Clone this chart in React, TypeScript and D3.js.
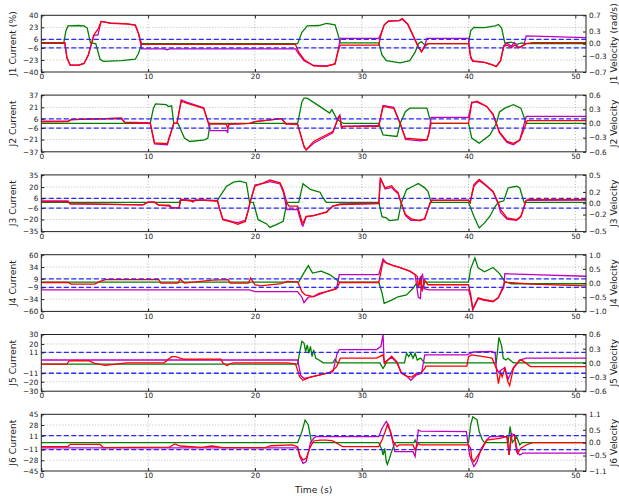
import React, { useEffect, useRef } from 'react';
import * as d3 from 'd3';

type Pt = [number, number];

// time axis
const timeTicks = [0, 10, 20, 30, 40, 50];
const timeMax = 51;

// joint labels / ticks
const joints = ['J1', 'J2', 'J3', 'J4', 'J5', 'J6'];
const currentTicks = [
  [40, 23, 6, -6, -23, -40],
  [37, 21, 6, -6, -21, -37],
  [35, 20, 6, -6, -20, -35],
  [60, 34, 9, -9, -34, -60],
  [30, 20, 11, -11, -20, -30],
  [45, 28, 11, -11, -28, -45],
];
const velocityTicks = [
  [0.7, 0.3, 0.0, -0.3, -0.7],
  [0.6, 0.3, 0.0, -0.3, -0.6],
  [0.5, 0.2, 0.0, -0.2, -0.5],
  [1.0, 0.5, 0.0, -0.5, -1.0],
  [0.6, 0.3, 0.0, -0.3, -0.6],
  [1.1, 0.5, 0.0, -0.5, -1.1],
];
const currentLimits = [6, 6, 6, 9, 11, 11];

// green: current (%), left axis
const j1Current: Pt[] = [[0,0.4],[2.1,0.4],[2.3,18],[2.5,25],[3.5,25.6],[4.0,25],[4.3,22],[4.6,1],[5.1,0],[5.5,-22],[5.8,-25],[7.5,-24],[8.8,-22],[9.1,-14],[9.4,0],[24.0,0],[24.4,16],[24.9,25],[26.0,25.6],[26.7,28.5],[27.5,26.5],[27.8,12],[28.0,1],[31.6,1],[31.9,-16],[32.3,-24],[33.6,-27],[34.5,-24],[35.0,-12],[35.3,0],[35.6,3],[35.9,-2],[36.2,0],[40.0,0],[40.2,18],[40.5,23],[41.5,22.5],[42.5,25],[42.8,27],[43.1,22],[43.4,1],[44.0,2],[44.5,-1],[45.0,1],[45.3,0],[51,0]];
const j2Current: Pt[] = [[0,0],[10.2,0],[10.5,20],[10.7,25.5],[11.7,24.5],[11.9,22],[12.2,23],[12.4,0],[12.8,0],[13.4,-19],[13.9,-23.5],[15.3,-21.5],[15.6,-19],[15.8,0],[24.0,0],[24.4,28],[24.6,33],[24.9,33],[26.1,22],[27.0,13.5],[27.2,18],[27.7,5],[28.3,0],[31.6,0],[32.0,-15],[33.3,-17],[33.6,0],[34.1,15.7],[34.5,20],[36.1,20],[36.5,0],[40.0,0],[40.3,-19],[41.0,-25.7],[42.0,-15],[42.6,0],[42.9,15],[43.4,20],[44.2,24.5],[44.9,20],[45.4,0],[51,0]];
const j3Current: Pt[] = [[0,1.2],[12.9,1.2],[13.0,3.5],[16.5,3.5],[16.8,10],[17.35,21],[18.0,26],[18.6,27.3],[19.2,25],[19.5,1.2],[19.85,1.2],[20.3,-20.3],[21.1,-25.5],[21.4,-29.8],[22.0,-26.4],[22.65,-22.2],[23.0,1.2],[24.1,1.2],[24.5,24.3],[24.8,21],[25.2,17],[25.8,14.8],[26.1,13.6],[26.3,8.6],[26.6,2.5],[26.7,1.2],[31.6,1.2],[31.9,-16.5],[32.3,-18],[32.6,-21.4],[33.4,-20.2],[33.7,0],[34.2,16.9],[34.8,21],[35.3,24.3],[35.9,19],[36.2,14.8],[36.5,1.2],[40.0,1.2],[40.5,-16],[41.0,-30.5],[41.5,-24.3],[42.0,-16],[42.5,-3.7],[42.8,1.2],[43.3,3],[43.7,18.9],[44.5,21],[44.8,18.9],[45.2,1.2],[51,1.2]];
const j4Current: Pt[] = [[0,2],[24.1,2],[24.6,22],[25.0,37],[25.4,21],[26.2,25],[27.0,18],[27.65,7],[27.9,2],[31.6,2],[31.9,-21],[32.1,-43],[32.8,-36],[33.4,-29],[34.2,-25],[34.8,-11],[35.1,-1],[35.3,-7],[35.5,4],[35.7,-12],[35.9,2],[40.0,2],[40.2,30],[40.6,53],[40.9,32],[41.5,24],[42.3,33],[42.9,20],[43.4,3],[44.0,-1.5],[51,-1.5]];
const j5Current: Pt[] = [[0,-1.3],[24.0,-1.3],[24.2,12],[24.4,22.8],[24.6,21],[24.75,12],[24.9,19],[25.05,10],[25.2,17.4],[25.35,6.6],[25.5,13.8],[25.7,4.8],[26.0,3],[26.4,0],[27.3,0],[27.5,4],[27.7,0],[31.7,0],[32.0,-6],[32.3,0],[34.0,0],[34.2,10.2],[34.4,6.6],[34.6,10.2],[34.8,4.8],[35.0,10.2],[35.2,3],[35.5,5],[35.9,0],[42.6,0],[42.85,27],[43.1,18],[43.25,4.8],[43.5,3],[43.7,4.8],[44.0,2],[44.2,0],[51,0]];
const j6Current: Pt[] = [[0,0],[24.0,0],[24.4,17.5],[24.7,36],[25.0,28],[25.3,0],[31.6,0],[31.9,-12],[32.0,-19.6],[32.15,-9],[32.3,-30],[32.4,-34.4],[32.6,-25],[32.8,-14.3],[33.1,0],[34.9,0],[35.0,4.2],[35.1,0],[40.0,0],[40.2,28],[40.4,41],[40.8,36],[41.0,17.5],[41.3,4.2],[41.5,0],[43.7,0],[43.9,25.4],[44.1,0],[44.5,9.5],[44.8,-3.7],[45.0,0],[51,0]];

// magenta: commanded velocity, right axis
const j1VelCmd: Pt[] = [[0,0.025],[2.2,0.025],[2.4,-0.35],[2.7,-0.53],[3.5,-0.53],[4.0,-0.49],[4.4,-0.28],[4.7,0.0],[4.9,0.21],[5.3,0.21],[5.6,0.55],[6.5,0.51],[8.0,0.49],[8.8,0.46],[9.1,0.25],[9.4,-0.13],[11.5,-0.13],[11.8,-0.15],[12.0,-0.13],[23.8,-0.13],[24.1,-0.25],[24.6,-0.42],[25.5,-0.54],[26.7,-0.55],[27.5,-0.5],[27.8,-0.15],[28.0,0.13],[31.6,0.13],[31.8,0.25],[32.1,0.46],[32.5,0.55],[33.5,0.57],[33.8,0.6],[34.3,0.48],[34.8,0.2],[35.3,-0.09],[35.6,-0.2],[35.9,-0.05],[36.1,0.13],[40.0,0.13],[40.2,-0.35],[40.4,-0.44],[41.5,-0.46],[42.3,-0.53],[42.6,-0.56],[43.0,-0.42],[43.3,-0.05],[43.6,0.02],[44.0,-0.07],[44.3,0.03],[44.7,-0.1],[45.2,-0.03],[45.4,0.19],[51,0.15]];
const j2VelCmd: Pt[] = [[0,0.05],[2.5,0.05],[2.8,0.08],[7.5,0.11],[7.8,0.03],[10.2,0.01],[10.6,-0.43],[11.8,-0.45],[12.0,-0.3],[12.4,0],[12.7,0],[13.1,0.5],[13.6,0.45],[15.2,0.33],[15.6,0.04],[15.8,-0.15],[17.35,-0.15],[17.45,-0.2],[17.5,-0.02],[19.5,0],[20.0,0.04],[22.5,0.1],[22.9,0],[24.0,-0.02],[24.6,-0.5],[24.8,-0.56],[25.5,-0.42],[26.7,-0.27],[27.3,-0.2],[27.8,0.13],[27.95,0.18],[28.1,-0.06],[31.6,-0.04],[32.0,0.38],[33.0,0.34],[33.6,0],[34.1,-0.34],[35.5,-0.37],[36.1,-0.35],[36.3,-0.2],[36.5,0.13],[40.0,0.13],[40.3,0.45],[40.8,0.45],[41.7,0.36],[42.3,0.2],[42.6,0],[42.9,-0.2],[43.6,-0.4],[44.2,-0.45],[44.8,-0.35],[45.4,0.15],[51,0.15]];
const j3VelCmd: Pt[] = [[0,0.04],[2.5,0.04],[2.7,-0.01],[9.5,-0.03],[10.0,0.02],[10.6,0.02],[11.0,-0.035],[12.0,-0.05],[12.2,-0.08],[12.9,-0.08],[13.05,0.065],[14.0,0.05],[14.2,0.02],[14.4,0.06],[16.5,0.04],[16.7,-0.1],[17.0,-0.28],[18.0,-0.33],[18.4,-0.34],[19.1,-0.3],[19.4,-0.11],[19.55,0.02],[20.0,0.32],[20.8,0.35],[21.4,0.38],[22.35,0.34],[22.65,0.2],[23.0,-0.11],[24.0,-0.11],[24.4,-0.38],[24.5,-0.4],[24.8,-0.24],[25.5,-0.22],[26.7,-0.15],[27.3,-0.05],[28.0,-0.01],[31.6,0],[31.75,0.45],[32.2,0.25],[32.8,0.28],[33.1,0.22],[33.4,0.17],[33.7,0],[34.1,-0.22],[34.6,-0.3],[35.4,-0.3],[35.9,-0.28],[36.2,-0.1],[36.5,0.055],[40.0,0.055],[40.15,0.01],[40.5,0.3],[41.0,0.4],[41.7,0.3],[42.3,0.2],[42.8,-0.02],[43.0,-0.16],[43.6,-0.28],[44.5,-0.3],[44.9,-0.24],[45.4,0.05],[51,0.055]];
const j4VelCmd: Pt[] = [[0,-0.24],[19.5,-0.24],[20.0,-0.3],[24.0,-0.3],[24.4,-0.5],[24.6,-0.69],[25.0,-0.5],[25.5,-0.48],[26.7,-0.3],[27.65,-0.2],[27.9,0.3],[31.6,0.3],[32.0,0.85],[32.3,0.71],[32.9,0.62],[33.6,0.54],[34.5,0.42],[35.0,0.3],[35.3,-0.5],[35.5,-0.54],[35.6,0.24],[35.7,0.3],[35.85,-0.2],[36.3,-0.24],[40.0,-0.24],[40.2,-0.5],[40.4,-0.95],[40.9,-0.55],[41.4,-0.6],[42.3,-0.66],[42.8,-0.5],[43.3,-0.15],[43.4,0.33],[46,0.3],[51,0.24]];
const j5VelCmd: Pt[] = [[0,0.06],[24.0,0.06],[24.3,-0.27],[24.6,-0.33],[25.2,-0.3],[26.0,-0.26],[27.3,-0.19],[27.7,0.2],[27.9,0.28],[31.4,0.28],[31.8,0.35],[32.0,0.6],[32.1,0],[32.8,0.12],[33.3,0],[33.7,-0.22],[34.2,-0.28],[34.6,-0.37],[35.1,-0.26],[35.6,-0.22],[35.9,0.17],[39.85,0.17],[40.5,0.23],[42.2,0.24],[42.5,0.2],[42.6,-0.1],[42.8,-0.2],[43.0,-0.16],[43.4,-0.1],[43.7,-0.35],[44.2,-0.1],[44.8,0.06],[45.4,0.1],[51,0.1]];
const j6VelCmd: Pt[] = [[0,-0.2],[24.0,-0.2],[24.2,-0.54],[24.5,-0.8],[24.8,-0.74],[25.2,0],[25.5,0.17],[25.7,0.23],[31.6,0.23],[31.9,0.56],[32.3,0.82],[32.5,0.69],[32.8,0.23],[33.1,-0.35],[34.8,-0.35],[35.0,-0.54],[35.3,0.49],[35.5,0.45],[39.8,0.43],[40.1,-0.48],[40.5,-0.93],[40.8,-0.74],[41.2,-0.22],[41.7,0.1],[42.0,0.23],[43.6,0.23],[43.8,-0.48],[44.0,0.36],[44.3,0.3],[44.5,-0.35],[44.8,-0.48],[45.1,-0.41],[51,-0.41]];

// red: measured velocity, right axis
const j1Vel: Pt[] = [[0,0.025],[2.2,0.025],[2.4,-0.35],[2.7,-0.53],[3.5,-0.53],[4.0,-0.49],[4.4,-0.28],[4.7,0.0],[5.0,0.25],[5.3,0.35],[5.6,0.55],[6.5,0.5],[8.0,0.49],[8.8,0.46],[9.1,0.25],[9.4,-0.02],[23.8,-0.02],[24.1,-0.21],[24.6,-0.39],[25.5,-0.55],[26.7,-0.56],[27.5,-0.5],[27.8,-0.18],[28.0,-0.035],[31.6,-0.035],[31.8,0.21],[32.1,0.46],[32.5,0.56],[33.5,0.57],[33.8,0.62],[34.3,0.49],[34.8,0.21],[35.3,-0.07],[35.6,-0.2],[35.9,-0.07],[36.2,0.0],[40.0,0.0],[40.2,-0.32],[40.4,-0.42],[41.5,-0.46],[42.3,-0.53],[42.6,-0.57],[43.0,-0.42],[43.3,-0.07],[43.6,-0.035],[44.0,-0.1],[44.3,-0.035],[44.7,-0.1],[45.2,-0.035],[45.4,0.0],[46.0,0.025],[51,0.025]];
const j2Vel: Pt[] = [[0,0.036],[2.5,0.04],[2.8,0.08],[7.5,0.11],[7.8,0.024],[9.5,0],[10.2,0],[10.6,-0.41],[11.8,-0.43],[12.0,-0.28],[12.4,0],[12.7,0],[13.1,0.47],[13.6,0.43],[15.2,0.32],[15.6,0.04],[15.8,-0.012],[17.3,-0.012],[17.45,-0.1],[17.6,-0.012],[19.5,0],[20.0,0.04],[22.5,0.1],[22.9,-0.012],[24.0,-0.02],[24.6,-0.48],[24.8,-0.56],[25.5,-0.38],[26.7,-0.24],[27.3,-0.17],[27.8,0.11],[27.95,0.15],[28.1,-0.1],[28.3,-0.06],[31.6,-0.06],[32.0,0.36],[33.0,0.32],[33.6,0],[34.1,-0.31],[36.1,-0.35],[36.3,-0.2],[36.5,0],[40.0,0],[40.3,0.43],[40.8,0.47],[41.7,0.36],[42.3,0.18],[42.6,0],[42.9,-0.18],[43.6,-0.38],[44.2,-0.42],[44.8,-0.35],[45.4,0],[45.5,0.06],[51,0.06]];
const j3Vel: Pt[] = [[0,0.03],[2.5,0.03],[2.7,-0.01],[4.5,-0.01],[9.5,-0.03],[10.0,0.02],[10.6,0.02],[11.0,-0.035],[12.0,-0.035],[12.2,-0.08],[12.9,-0.08],[13.05,0.065],[14.0,0.04],[15.0,0.06],[16.5,0.04],[16.7,-0.1],[17.0,-0.29],[18.0,-0.34],[18.4,-0.37],[19.1,-0.32],[19.4,-0.11],[19.55,0.02],[20.0,0.3],[20.8,0.36],[21.4,0.41],[22.35,0.36],[22.65,0.24],[23.0,0],[23.2,-0.05],[24.0,-0.05],[24.4,-0.32],[24.5,-0.35],[24.8,-0.23],[25.5,-0.22],[26.7,-0.16],[27.3,-0.05],[28.0,-0.025],[31.6,-0.005],[31.75,0.43],[32.2,0.27],[32.8,0.31],[33.1,0.24],[33.4,0.19],[33.7,0],[34.1,-0.2],[34.6,-0.27],[35.4,-0.31],[35.9,-0.27],[36.2,-0.11],[36.5,0.05],[40.0,0.05],[40.15,0.01],[40.5,0.33],[41.0,0.42],[41.7,0.31],[42.3,0.21],[42.8,0],[43.0,-0.11],[43.6,-0.26],[44.5,-0.29],[44.9,-0.23],[45.4,0.05],[45.6,0.065],[51,0.065]];
const j4Vel: Pt[] = [[0,0.02],[2.5,0.02],[2.8,-0.035],[5.0,-0.035],[5.5,0.06],[6.0,0.12],[11.0,0.12],[11.2,0],[12.8,0],[13.0,0.14],[13.4,0],[16.0,0.1],[17.5,0.12],[17.7,0],[19.4,0],[19.6,0.18],[20.0,-0.06],[20.5,-0.1],[22.5,-0.02],[23.0,0.06],[24.0,0.04],[24.4,-0.3],[24.7,-0.42],[25.5,-0.48],[26.0,-0.36],[26.7,-0.3],[27.3,-0.24],[27.65,-0.18],[27.95,0.02],[31.6,0.02],[32.0,0.77],[32.3,0.71],[32.9,0.62],[33.6,0.54],[34.5,0.42],[35.0,0.3],[35.2,0.24],[35.3,-0.18],[35.5,0.24],[35.65,-0.3],[35.85,0.12],[36.2,-0.06],[40.0,-0.06],[40.2,-0.4],[40.4,-0.9],[40.9,-0.52],[41.4,-0.58],[42.3,-0.64],[42.8,-0.52],[43.4,0.03],[46,-0.04],[51,-0.1]];
const j5Vel: Pt[] = [[0,-0.025],[2.4,-0.025],[2.6,0.04],[4.5,0.04],[5.0,-0.01],[6.0,-0.055],[7.0,-0.025],[8.0,0],[11.5,0],[12.2,0.13],[12.6,0.13],[13.0,0.1],[13.3,0.08],[16.8,0.08],[17.0,0],[17.4,-0.06],[17.6,-0.025],[18,0],[23.0,0],[23.8,-0.02],[24.2,-0.3],[24.5,-0.37],[24.8,-0.34],[25.2,-0.3],[26.0,-0.26],[27.0,-0.2],[27.3,-0.16],[27.65,-0.08],[28.0,0.1],[31.4,0.1],[32.0,0.17],[32.15,-0.01],[32.8,0.14],[33.3,0.02],[33.7,-0.2],[34.2,-0.28],[34.7,-0.3],[35.1,-0.23],[35.6,-0.2],[35.9,-0.12],[36.0,-0.07],[39.85,-0.07],[40.0,0.13],[40.3,0.17],[41.4,0.13],[42.2,0.1],[42.6,-0.12],[42.8,-0.44],[43.0,-0.2],[43.15,-0.3],[43.4,-0.12],[43.7,-0.41],[43.85,-0.48],[44.2,-0.12],[44.8,0.06],[45.1,0.04],[45.8,-0.08],[51,-0.08]];
const j6Vel: Pt[] = [[0,-0.155],[2.5,-0.155],[2.7,-0.065],[5.5,-0.065],[5.8,-0.19],[12.0,-0.17],[12.5,-0.05],[13.0,-0.13],[15.0,-0.18],[16.0,-0.13],[17.0,-0.19],[21.0,-0.19],[21.5,-0.12],[23.5,-0.09],[24.0,-0.155],[24.2,-0.48],[24.5,-0.67],[24.8,-0.61],[25.2,-0.155],[25.5,0.065],[26.1,0.1],[26.7,0.1],[27.3,0.065],[27.95,-0.09],[28.2,-0.155],[31.6,-0.155],[31.9,0.1],[32.2,0.43],[32.4,0.69],[32.7,0.43],[32.95,0.04],[33.3,-0.155],[33.5,-0.09],[34.8,-0.09],[35.0,-0.28],[35.3,-0.03],[35.5,-0.09],[40.0,-0.09],[40.2,-0.22],[40.3,-0.61],[40.5,-0.74],[40.8,-0.54],[41.3,-0.22],[41.7,0.1],[42.9,0.17],[43.6,0.23],[43.8,-0.48],[44.0,0.23],[44.3,0.3],[44.6,-0.41],[44.9,-0.22],[45.4,-0.09],[46.0,0],[51,0]];

const currents = [j1Current, j2Current, j3Current, j4Current, j5Current, j6Current];
const velCmds = [j1VelCmd, j2VelCmd, j3VelCmd, j4VelCmd, j5VelCmd, j6VelCmd];
const vels = [j1Vel, j2Vel, j3Vel, j4Vel, j5Vel, j6Vel];

const W = 619;
const H = 499;
const left = 41.3;
const right = 586;
const top0 = 15.3;
const step = 79.8;
const ph = 56.7;

function App() {
  const ref = useRef<SVGSVGElement>(null);

  useEffect(() => {
    const svg = d3.select(ref.current);
    svg.selectAll('*').remove();

    const x = d3.scaleLinear().domain([0, timeMax]).range([left, right]);

    joints.forEach((name, i) => {
      const cTicks = currentTicks[i];
      const vTicks = velocityTicks[i];
      const yc = d3.scaleLinear().domain([-cTicks[0], cTicks[0]]).range([ph, 0]);
      const yv = d3.scaleLinear().domain([-vTicks[0], vTicks[0]]).range([ph, 0]);
      const g = svg.append('g').attr('transform', `translate(0,${top0 + i * step})`);

      g.append('clipPath').attr('id', 'clip' + i)
        .append('rect').attr('x', left).attr('y', 0).attr('width', right - left).attr('height', ph);

      // dotted grid
      g.append('g').selectAll('line').data(timeTicks.filter(t => t > 0)).enter()
        .append('line')
        .attr('x1', d => x(d)).attr('x2', d => x(d))
        .attr('y1', 0).attr('y2', ph)
        .attr('stroke', '#888').attr('stroke-width', 0.6).attr('stroke-dasharray', '1,2');
      g.append('g').selectAll('line').data(cTicks.slice(1, -1)).enter()
        .append('line')
        .attr('x1', left).attr('x2', right)
        .attr('y1', d => yc(d)).attr('y2', d => yc(d))
        .attr('stroke', '#888').attr('stroke-width', 0.6).attr('stroke-dasharray', '1,2');

      const plot = g.append('g').attr('clip-path', `url(#clip${i})`);
      const lineC = d3.line<Pt>().x(d => x(d[0])).y(d => yc(d[1]));
      const lineV = d3.line<Pt>().x(d => x(d[0])).y(d => yv(d[1]));

      plot.append('path').datum(currents[i]).attr('d', lineC)
        .attr('fill', 'none').attr('stroke', '#008000').attr('stroke-width', 1.3);
      plot.append('path').datum(velCmds[i]).attr('d', lineV)
        .attr('fill', 'none').attr('stroke', '#bf00bf').attr('stroke-width', 1.3);
      plot.append('path').datum(vels[i]).attr('d', lineV)
        .attr('fill', 'none').attr('stroke', '#ff0000').attr('stroke-width', 1.3);

      // current limits
      plot.append('g').selectAll('line').data([currentLimits[i], -currentLimits[i]]).enter()
        .append('line')
        .attr('x1', left).attr('x2', right)
        .attr('y1', d => yc(d)).attr('y2', d => yc(d))
        .attr('stroke', '#2a2aff').attr('stroke-width', 1.3).attr('stroke-dasharray', '5,2.5');

      // axes, ticks pointing inward
      const fmtV = d3.format('.1f');
      const axL = g.append('g').attr('transform', `translate(${left},0)`)
        .call(d3.axisLeft(yc).tickValues(cTicks).tickSizeInner(-3).tickSizeOuter(0).tickPadding(3));
      const axR = g.append('g').attr('transform', `translate(${right},0)`)
        .call(d3.axisRight(yv).tickValues(vTicks).tickFormat(d => fmtV(d as number)).tickSizeInner(-3).tickSizeOuter(0).tickPadding(3));
      const axB = g.append('g').attr('transform', `translate(0,${ph})`)
        .call(d3.axisBottom(x).tickValues(timeTicks).tickFormat(d3.format('d')).tickSizeInner(-3).tickSizeOuter(0).tickPadding(2));
      const axT = g.append('g')
        .call(d3.axisTop(x).tickValues(timeTicks).tickFormat(() => '').tickSizeInner(-3).tickSizeOuter(0));
      [axL, axR, axB, axT].forEach(a => {
        a.select('.domain').remove();
        a.selectAll('text').attr('font-family', 'DejaVu Sans').attr('font-size', 7.3).attr('fill', '#222');
        a.selectAll('line').attr('stroke', '#222');
      });

      g.append('rect').attr('x', left).attr('y', 0).attr('width', right - left).attr('height', ph)
        .attr('fill', 'none').attr('stroke', '#222').attr('stroke-width', 1);

      g.append('text')
        .attr('transform', `translate(15.5,${ph / 2}) rotate(-90)`)
        .attr('text-anchor', 'middle')
        .attr('font-family', 'DejaVu Sans').attr('font-size', 9.2).attr('fill', '#222')
        .text(i === 0 ? `${name} Current (%)` : `${name} Current`);
      g.append('text')
        .attr('transform', `translate(616.5,${ph / 2}) rotate(-90)`)
        .attr('text-anchor', 'middle')
        .attr('font-family', 'DejaVu Sans').attr('font-size', 9.2).attr('fill', '#222')
        .text(i === 0 ? `${name} Velocity (rad/s)` : `${name} Velocity`);
    });

    svg.append('text')
      .attr('x', (left + right) / 2).attr('y', 493)
      .attr('text-anchor', 'middle')
      .attr('font-family', 'DejaVu Sans').attr('font-size', 9.2).attr('fill', '#222')
      .text('Time (s)');
  }, []);

  return (
    <svg ref={ref} width={W} height={H}
      style={{ position: 'absolute', left: 0, top: 0, background: '#fff' }} />
  );
}

export default App;
